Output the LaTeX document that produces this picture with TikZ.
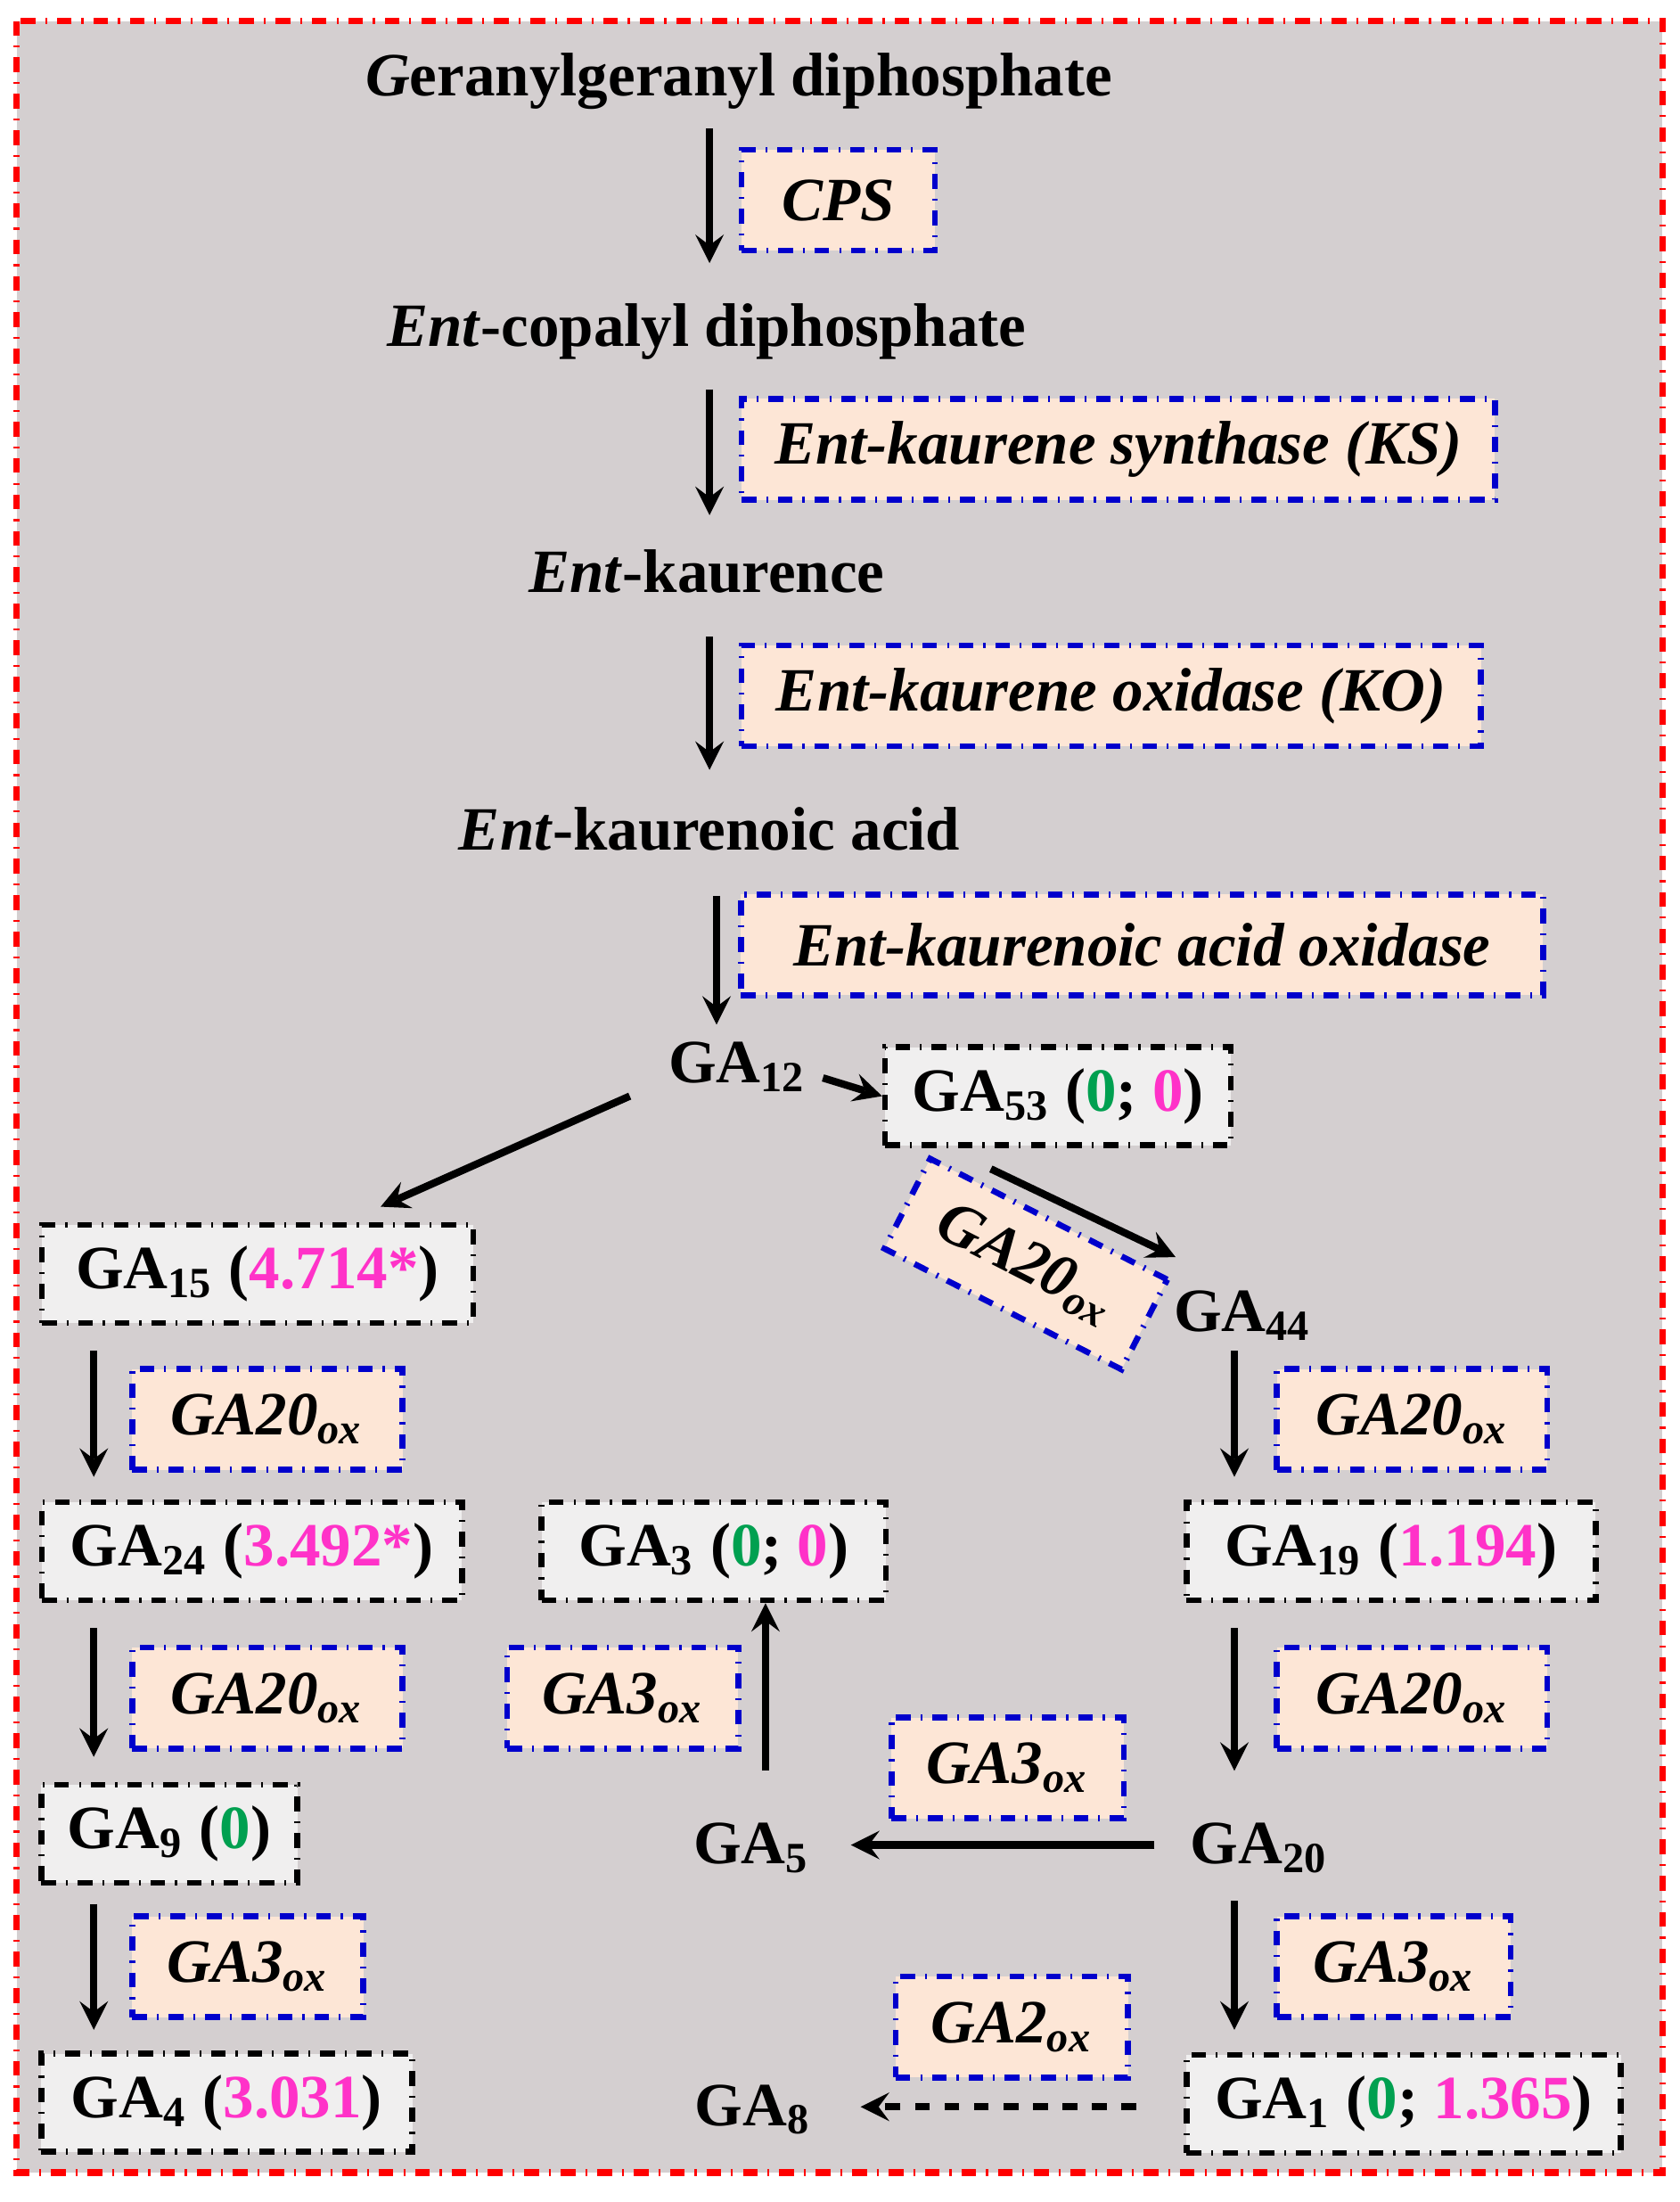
\documentclass[tikz,border=0pt]{standalone}
\usepackage{fontspec}
\setmainfont{Liberation Serif}
\usetikzlibrary{arrows}
\definecolor{bggray}{RGB}{212,207,208}
\definecolor{boxgray}{RGB}{240,239,239}
\definecolor{peach}{RGB}{253,230,214}
\definecolor{numgreen}{RGB}{0,160,80}
\definecolor{nummag}{RGB}{255,50,200}
\tikzstyle{metab} = [font=\fontsize{12.5}{15}\selectfont\bfseries, inner sep=0pt]
\tikzstyle{gabox} = [rectangle, draw=black, dash dot, line width=1.2pt, fill=boxgray, font=\fontsize{12.5}{15}\selectfont\bfseries, minimum height=0.7cm]
\tikzstyle{enzyme} = [rectangle, draw=blue!80!black, dash dot, line width=1.2pt, fill=peach, font=\fontsize{12.5}{15}\selectfont\bfseries\itshape, minimum height=0.72cm]
\tikzstyle{arrow} = [line width=1.5pt,->,>=stealth]
\newcommand{\gz}[1]{\textcolor{numgreen}{#1}}
\newcommand{\mg}[1]{\textcolor{nummag}{#1}}
\begin{document}
\begin{tikzpicture}[x=0.01cm, y=-0.01cm]
  \useasboundingbox (0,0) rectangle (1200,1573);
  \fill[bggray] (12,15) rectangle (1188,1552);
  \draw[red, dash dot, line width=1.3pt] (12,15) rectangle (1188,1552);

  % main chain
  \node (ggpp) [metab] at (528,58) {\textit{G}eranylgeranyl diphosphate};
  \node (cps) [enzyme, minimum width=1.38cm] at (599,143) {CPS};
  \node (cpp) [metab] at (505,237) {\textit{Ent}-copalyl diphosphate};
  \node (ks) [enzyme, minimum width=5.38cm] at (799,321) {Ent-kaurene synthase (KS)};
  \node (kaur) [metab] at (505,408) {\textit{Ent}-kaurence};
  \node (ko) [enzyme, minimum width=5.28cm] at (794,497) {Ent-kaurene oxidase (KO)};
  \node (kacid) [metab] at (507,592) {\textit{Ent}-kaurenoic acid};
  \node (kao) [enzyme, minimum width=5.73cm] at (816,675) {Ent-kaurenoic acid oxidase};
  \node (ga12) [metab] at (527,762) {GA\textsubscript{12}};
  \node (ga53) [gabox, minimum width=2.47cm] at (756,783) {GA\textsubscript{53} (\gz{0}; \mg{0})};

  \draw[arrow] (507,92) -- (507,188);
  \draw[arrow] (507,278) -- (507,368);
  \draw[arrow] (507,455) -- (507,550);
  \draw[arrow] (512,640) -- (512,732);
  \draw[arrow] (588,770) -- (ga53.west);

  % left branch
  \node (ga15) [gabox, minimum width=3.08cm] at (184,910) {GA\textsubscript{15} (\mg{4.714*})};
  \node (lox1) [enzyme, minimum width=1.93cm] at (191,1014) {GA20\textsubscript{ox}};
  \node (ga24) [gabox, minimum width=3.0cm] at (180,1108) {GA\textsubscript{24} (\mg{3.492*})};
  \node (lox2) [enzyme, minimum width=1.93cm] at (191,1213) {GA20\textsubscript{ox}};
  \node (ga9) [gabox, minimum width=1.83cm] at (121,1310) {GA\textsubscript{9} (\gz{0})};
  \node (lox3) [enzyme, minimum width=1.65cm] at (177,1405) {GA3\textsubscript{ox}};
  \node (ga4) [gabox, minimum width=2.65cm] at (162,1502) {GA\textsubscript{4} (\mg{3.031})};

  \draw[arrow] (450,783) -- (272,862);
  \draw[arrow] (67,965) -- (67,1055);
  \draw[arrow] (67,1163) -- (67,1255);
  \draw[arrow] (67,1360) -- (67,1450);

  % right branch
  \node (rox0) [enzyme, minimum width=1.9cm, rotate=-27] at (733,903) {GA20\textsubscript{ox}};
  \node (ga44) [metab] at (888,940) {GA\textsubscript{44}};
  \node (rox1) [enzyme, minimum width=1.93cm] at (1009,1014) {GA20\textsubscript{ox}};
  \node (ga19) [gabox, minimum width=2.92cm] at (994,1108) {GA\textsubscript{19} (\mg{1.194})};
  \node (rox2) [enzyme, minimum width=1.93cm] at (1009,1213) {GA20\textsubscript{ox}};
  \node (ga20) [metab] at (900,1320) {GA\textsubscript{20}};
  \node (rox3) [enzyme, minimum width=1.67cm] at (996,1405) {GA3\textsubscript{ox}};
  \node (ga1) [gabox, minimum width=3.1cm] at (1003,1503) {GA\textsubscript{1} (\gz{0}; \mg{1.365})};

  \draw[arrow] (708,835) -- (840,898);
  \draw[arrow] (882,965) -- (882,1055);
  \draw[arrow] (882,1163) -- (882,1265);
  \draw[arrow] (882,1358) -- (882,1450);

  % middle
  \node (mox1) [enzyme, minimum width=1.66cm] at (720,1263) {GA3\textsubscript{ox}};
  \node (ga5) [metab] at (537,1320) {GA\textsubscript{5}};
  \node (mox2) [enzyme, minimum width=1.65cm] at (445,1213) {GA3\textsubscript{ox}};
  \node (ga3) [gabox, minimum width=2.46cm] at (510,1108) {GA\textsubscript{3} (\gz{0}; \mg{0})};
  \node (mox3) [enzyme, minimum width=1.66cm] at (723,1448) {GA2\textsubscript{ox}};
  \node (ga8) [metab] at (538,1507) {GA\textsubscript{8}};

  \draw[arrow] (825,1318) -- (608,1318);
  \draw[arrow] (547,1265) -- (ga3.south -| 547,0);
  \draw[arrow, dashed] (812,1505) -- (615,1505);
\end{tikzpicture}
\end{document}
